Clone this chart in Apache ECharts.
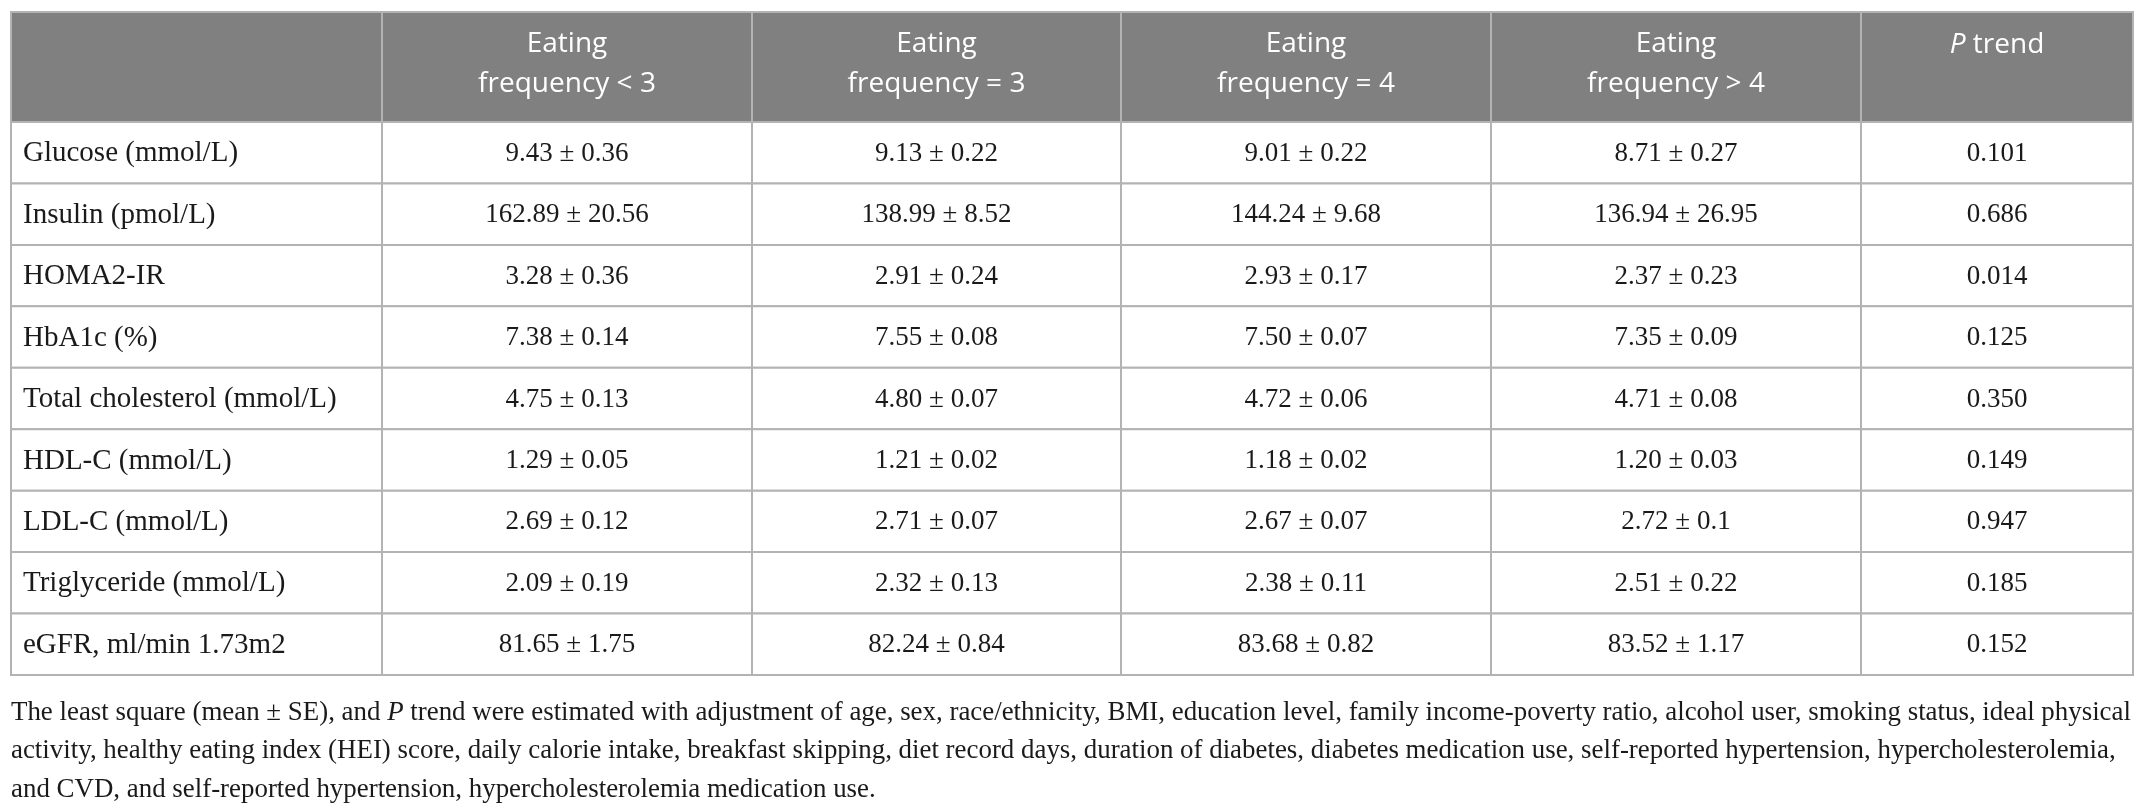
<!DOCTYPE html>
<html>
<head>
<meta charset="utf-8">
<script src="https://cdn.jsdelivr.net/npm/echarts@6/dist/echarts.min.js"></script>
<style>
html,body{margin:0;padding:0;background:#fff;}
#chart{width:2147px;height:809px;}
</style>
</head>
<body>
<div id="chart"></div>
<script>
// ---------- data ----------
const columnHeaders = ['', 'Eating\nfrequency < 3', 'Eating\nfrequency = 3', 'Eating\nfrequency = 4', 'Eating\nfrequency > 4', 'P trend'];
const metrics = ['Glucose (mmol/L)', 'Insulin (pmol/L)', 'HOMA2-IR', 'HbA1c (%)', 'Total cholesterol (mmol/L)', 'HDL-C (mmol/L)', 'LDL-C (mmol/L)', 'Triglyceride (mmol/L)', 'eGFR, ml/min 1.73m2'];
const meanLt3 = ['9.43', '162.89', '3.28', '7.38', '4.75', '1.29', '2.69', '2.09', '81.65'];
const seLt3   = ['0.36', '20.56', '0.36', '0.14', '0.13', '0.05', '0.12', '0.19', '1.75'];
const meanEq3 = ['9.13', '138.99', '2.91', '7.55', '4.80', '1.21', '2.71', '2.32', '82.24'];
const seEq3   = ['0.22', '8.52', '0.24', '0.08', '0.07', '0.02', '0.07', '0.13', '0.84'];
const meanEq4 = ['9.01', '144.24', '2.93', '7.50', '4.72', '1.18', '2.67', '2.38', '83.68'];
const seEq4   = ['0.22', '9.68', '0.17', '0.07', '0.06', '0.02', '0.07', '0.11', '0.82'];
const meanGt4 = ['8.71', '136.94', '2.37', '7.35', '4.71', '1.20', '2.72', '2.51', '83.52'];
const seGt4   = ['0.27', '26.95', '0.23', '0.09', '0.08', '0.03', '0.1', '0.22', '1.17'];
const pTrend  = ['0.101', '0.686', '0.014', '0.125', '0.350', '0.149', '0.947', '0.185', '0.152'];
const footnoteLines = [
  ['The least square (mean \u00b1 SE), and ', 'P', ' trend were estimated with adjustment of age, sex, race/ethnicity, BMI, education level, family income-poverty ratio, alcohol user, smoking status, ideal physical'],
  ['activity, healthy eating index (HEI) score, daily calorie intake, breakfast skipping, diet record days, duration of diabetes, diabetes medication use, self-reported hypertension, hypercholesterolemia,'],
  ['and CVD, and self-reported hypertension, hypercholesterolemia medication use.']
];

// ---------- layout ----------
const colEdges = [0, 371, 741, 1110, 1480, 1850, 2122];
const TABLE_LEFT = 11, TABLE_TOP = 12, HEADER_H = 110, BODY_H = 553;
const BORDER = '#b3b3b3';
const HEADER_BG = '#808080';
const SERIF = '"Liberation Serif", "DejaVu Serif", serif';
const SANS = '"Open Sans", "Noto Sans", sans-serif';

const meanCols = [meanLt3, meanEq3, meanEq4, meanGt4];
const seCols = [seLt3, seEq3, seEq4, seGt4];

const bodyData = [];
metrics.forEach((m, r) => {
  bodyData.push([0, r, m]);
  meanCols.forEach((mc, c) => bodyData.push([c + 1, r, mc[r] + ' \u00b1 ' + seCols[c][r]]));
  bodyData.push([5, r, pTrend[r]]);
});
const headerData = columnHeaders.map((h, c) => [c, 0, h]);

function cellRect(api, c, rowIdx) {
  const p0 = api.coord([colEdges[c], rowIdx]);
  const p1 = api.coord([colEdges[c + 1], rowIdx]);
  const h = api.size([0, 1])[1];
  return { x: p0[0], y: p0[1] - h / 2, width: p1[0] - p0[0], height: h };
}

function renderBody(params, api) {
  const c = api.value(0), r = api.value(1);
  const txt = bodyData[params.dataIndex][2];
  const rc = cellRect(api, c, r);
  return {
    type: 'group',
    children: [
      { type: 'rect', shape: rc, style: { fill: '#fff', stroke: BORDER, lineWidth: 2 } },
      { type: 'text', style: {
          text: txt,
          x: c === 0 ? rc.x + 12 : rc.x + rc.width / 2,
          y: rc.y + rc.height / 2 + 1,
          align: c === 0 ? 'left' : 'center', verticalAlign: 'middle',
          font: (c === 0 ? '29px ' : '27px ') + SERIF, fill: '#1a1a1a' } }
    ]
  };
}

function renderHeader(params, api) {
  const c = api.value(0);
  const txt = headerData[params.dataIndex][2];
  const rc = cellRect(api, c, 0);
  let textEl;
  if (c === 5) {
    textEl = { type: 'text', style: {
      text: '{i|P} trend', x: rc.x + rc.width / 2, y: rc.y + 33,
      align: 'center', verticalAlign: 'middle',
      font: '28px ' + SANS, fill: '#fff',
      rich: { i: { fontStyle: 'italic', fontFamily: SANS, fontSize: 28, fill: '#fff' } } } };
  } else {
    textEl = { type: 'text', style: {
      text: txt, x: rc.x + rc.width / 2, y: rc.y + rc.height / 2 - 3,
      align: 'center', verticalAlign: 'middle', lineHeight: 40,
      font: '28px ' + SANS, fill: '#fff' } };
  }
  return { type: 'group', children: [
    { type: 'rect', shape: rc, style: { fill: HEADER_BG, stroke: BORDER, lineWidth: 2 } },
    textEl
  ] };
}

const footRich = { n: { fontFamily: SERIF, fontSize: 26.9, fill: '#1a1a1a' }, i: { fontFamily: SERIF, fontSize: 26.9, fontStyle: 'italic', fill: '#1a1a1a' } };
const footGraphics = footnoteLines.map((parts, k) => ({
  type: 'text', left: TABLE_LEFT, top: 699 + k * 38.5,
  style: {
    text: parts.map((p, j) => (parts.length === 3 && j === 1) ? '{i|' + p + '}' : '{n|' + p + '}').join(''),
    rich: footRich
  }
}));

const chart = echarts.init(document.getElementById('chart'), null, { renderer: 'canvas' });
chart.setOption({
  animation: false,
  backgroundColor: '#fff',
  grid: [
    { left: TABLE_LEFT, top: TABLE_TOP, width: colEdges[6], height: HEADER_H },
    { left: TABLE_LEFT, top: TABLE_TOP + HEADER_H, width: colEdges[6], height: BODY_H }
  ],
  xAxis: [
    { gridIndex: 0, type: 'value', min: 0, max: colEdges[6], show: false },
    { gridIndex: 1, type: 'value', min: 0, max: colEdges[6], show: false }
  ],
  yAxis: [
    { gridIndex: 0, type: 'category', data: ['header'], show: false },
    { gridIndex: 1, type: 'category', data: metrics, inverse: true, show: false }
  ],
  graphic: footGraphics,
  series: [
    { type: 'custom', xAxisIndex: 0, yAxisIndex: 0, data: headerData.map(d => [d[0], d[1]]), renderItem: renderHeader, silent: true },
    { type: 'custom', xAxisIndex: 1, yAxisIndex: 1, data: bodyData.map(d => [d[0], d[1]]), renderItem: renderBody, silent: true }
  ]
});
</script>
</body>
</html>
